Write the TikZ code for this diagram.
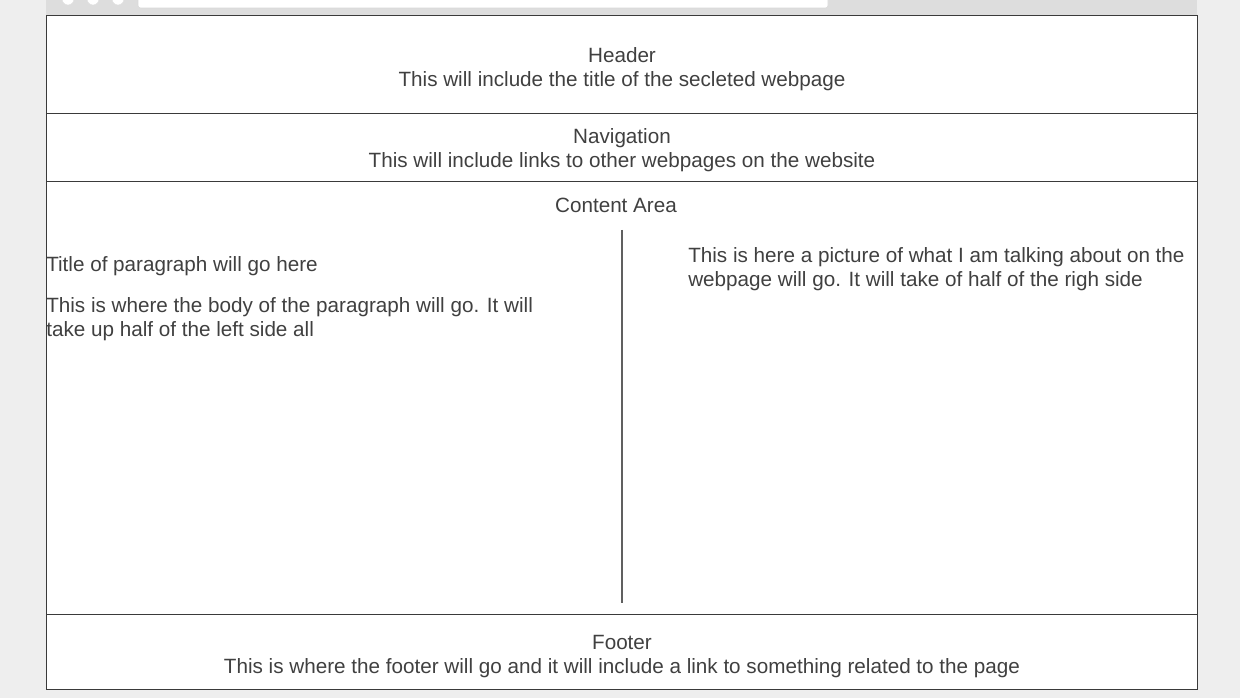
\documentclass[tikz,border=0pt]{standalone}
\usepackage{fontspec}
\setmainfont{Liberation Sans}
\usepackage{xcolor}
\definecolor{bgGray}{HTML}{EEEEEE}
\definecolor{barGray}{HTML}{DDDDDD}
\definecolor{frameGray}{HTML}{3A3A3A}
\definecolor{textGray}{HTML}{404040}
\definecolor{ruleGray}{HTML}{606060}
\tikzset{
    pagetext/.style={text=textGray,inner sep=0pt,
        font=\fontsize{15.5}{18}\selectfont},
    centertext/.style={pagetext,align=center,anchor=base},
    lefttext/.style={pagetext,align=left,anchor=base west},
    divider/.style={draw=frameGray,line width=0.9pt},
}
\newcommand{\browserbar} {
    \fill[barGray] (46,-2) rectangle (1197,15);
    \foreach \x in {68,93,118}
        \draw[fill=white,draw=black!12] (\x,-1) circle (6);
    \draw[fill=white,draw=black!15,rounded corners=2] (138,-5) rectangle (828,8);
}

\begin{document}
\begin{tikzpicture}[x=0.75pt,y=-0.75pt]
    \useasboundingbox (0,0) rectangle (1240,698);
    \fill[bgGray] (0,0) rectangle (1240,698);
    \browserbar
    % page frame and sections
    \draw[divider,fill=white] (46.5,15.5) rectangle (1197.5,689.5);
    \coordinate (navTopL) at (46.5,113.5);
    \coordinate (navTopR) at (1197.5,113.5);
    \coordinate (contTopL) at (46.5,181.5);
    \coordinate (contTopR) at (1197.5,181.5);
    \coordinate (footTopL) at (46.5,614.5);
    \coordinate (footTopR) at (1197.5,614.5);
    \draw[divider] (navTopL) -- (navTopR);
    \draw[divider] (contTopL) -- (contTopR);
    \draw[divider] (footTopL) -- (footTopR);
    \coordinate (splitTop) at (622,230);
    \coordinate (splitBot) at (622,603);
    \draw[draw=ruleGray,line width=1.5pt] (splitTop) -- (splitBot);
    % texts (base = last line)
    \node[centertext] (header) at (622,86.5)
        {Header\\This will include the title of the secleted webpage};
    \node[centertext] (nav) at (622,168)
        {Navigation\\This will include links to other webpages on the website};
    \node[centertext] (content) at (616,213) {Content Area};
    \node[lefttext] (paraTitle) at (46,272) {Title of paragraph will go here};
    \node[lefttext] (paraBody) at (46,337)
        {This is where the body of the paragraph will go. It will\\take up half of the left side all};
    \node[lefttext] (picture) at (688,287)
        {This is here a picture of what I am talking about on the\\webpage will go. It will take of half of the righ side};
    \node[centertext] (footer) at (622,673)
        {Footer\\This is where the footer will go and it will include a link to something related to the page};
\end{tikzpicture}
\end{document}
